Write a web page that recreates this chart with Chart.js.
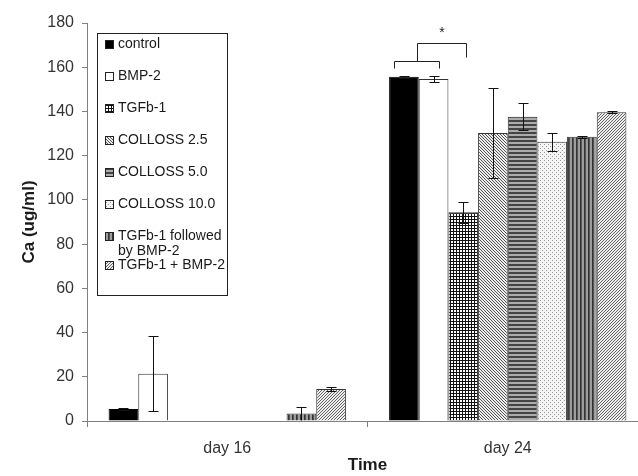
<!DOCTYPE html>
<html lang="en">
<head>
	<title>Ca (ug/ml) by time</title>
	<meta charset="utf-8">
	<script src="https://cdn.jsdelivr.net/npm/chart.js@4.4.0/dist/chart.umd.min.js"></script>
	<style>
		html, body { margin: 0; padding: 0; background: #fff; overflow: hidden; }
		#wrap { width: 660px; height: 476px; }
	</style>
</head>
<body>
	<div id="wrap"><canvas id="chart" width="660" height="476"></canvas></div>
	<script>
		// categories and series
		const days = ['day 16', 'day 24'];
		const seriesNames = ['control', 'BMP-2', 'TGFb-1', 'COLLOSS 2.5', 'COLLOSS 5.0', 'COLLOSS 10.0', ['TGFb-1 followed', 'by BMP-2'], 'TGFb-1 + BMP-2'];

		// mean Ca per series, one array per day (same order as seriesNames)
		const day16Means = [5.4, 21.4, 0, 0, 0, 0, 3.4, 14.5];
		const day24Means = [155.7, 154.7, 94.4, 130.2, 137.6, 126.3, 128.6, 139.6];
		// error bar half-heights
		const day16Err = [0.3, 17, 0, 0, 0, 0, 3, 0.8];
		const day24Err = [0.4, 1.5, 4.8, 20.5, 6.2, 4.0, 0.4, 0.4];

		const yTicks = [0, 20, 40, 60, 80, 100, 120, 140, 160, 180];
		// significance bracket levels (data units): low bar, low feet, high bar, high foot, star
		const sigLevels = [163, 159.5, 171, 164.5, 175.5];

		const FONT = '"Liberation Sans", Arial, sans-serif';

		function tile(w, h, off, on, test) {
			const c = document.createElement('canvas');
			c.width = w;
			c.height = h;
			const g = c.getContext('2d');
			g.fillStyle = off;
			g.fillRect(0, 0, w, h);
			for (let y = 0; y < h; y++) {
				for (let x = 0; x < w; x++) {
					const col = test(x, y);
					if (col) {
						g.fillStyle = col === true ? on : col;
						g.fillRect(x, y, 1, 1);
					}
				}
			}
			return g.createPattern(c, 'repeat');
		}

		const fills = [
			'#000',
			'#fff',
			tile(3, 3, '#fff', '#111', (x, y) => x === 0 || y === 0),
			tile(3, 3, '#ececec', '#555', (x, y) => (x - y + 3) % 3 === 0),
			tile(1, 4, '#ababab', '#444', (x, y) => y < 2),
			tile(4, 4, '#f4f4f4', '#9a9a9a', (x, y) => (x === 0 && y === 0) || (x === 2 && y === 2)),
			tile(4, 1, '#9c9c9c', '#333', (x, y) => x === 0 ? true : (x === 1 ? '#555' : false)),
			tile(3, 3, '#ececec', '#666', (x, y) => (x + y) % 3 === 0)
		];

		const datasets = seriesNames.map((name, i) => ({
			label: name,
			data: [day16Means[i], day24Means[i]],
			errors: [day16Err[i], day24Err[i]],
			backgroundColor: fills[i],
			borderColor: i === 0 ? '#000' : '#333',
			borderWidth: 1,
			categoryPercentage: 0.846,
			barPercentage: 1.0
		}));

		const errorBars = {
			id: 'errorBars',
			afterDatasetsDraw(chart) {
				const { ctx } = chart;
				const y = chart.scales.y;
				ctx.save();
				ctx.strokeStyle = '#111';
				ctx.lineWidth = 1;
				chart.data.datasets.forEach((ds, i) => {
					chart.getDatasetMeta(i).data.forEach((bar, j) => {
						const e = ds.errors[j];
						const v = ds.data[j];
						if (!e || !v) return;
						const x = Math.round(bar.x) + 0.5;
						const top = Math.round(y.getPixelForValue(v + e)) + 0.5;
						const bot = Math.round(y.getPixelForValue(Math.max(0, v - e))) + 0.5;
						ctx.beginPath();
						ctx.moveTo(x, top);
						ctx.lineTo(x, bot);
						ctx.moveTo(x - 5, top);
						ctx.lineTo(x + 5, top);
						if (v - e > 1) {
							ctx.moveTo(x - 5, bot);
							ctx.lineTo(x + 5, bot);
						}
						ctx.stroke();
					});
				});
				ctx.restore();
			}
		};

		const sigBracket = {
			id: 'sigBracket',
			afterDatasetsDraw(chart) {
				const { ctx } = chart;
				const y = chart.scales.y;
				const c = chart.getDatasetMeta(0).data[1];
				const b = chart.getDatasetMeta(1).data[1];
				const t = chart.getDatasetMeta(2).data[1];
				const px = v => Math.round(y.getPixelForValue(v)) + 0.5;
				const left = Math.round(c.x - 10) + 0.5;
				const right = Math.round(b.x + 5) + 0.5;
				const mid = Math.round((left + right) / 2) + 0.5;
				const far = Math.round(t.x + 3) + 0.5;
				ctx.save();
				ctx.strokeStyle = '#222';
				ctx.lineWidth = 1;
				ctx.beginPath();
				ctx.moveTo(left, px(sigLevels[1]));
				ctx.lineTo(left, px(sigLevels[0]));
				ctx.lineTo(right, px(sigLevels[0]));
				ctx.lineTo(right, px(sigLevels[1]));
				ctx.moveTo(mid, px(sigLevels[0]));
				ctx.lineTo(mid, px(sigLevels[2]));
				ctx.lineTo(far, px(sigLevels[2]));
				ctx.lineTo(far, px(sigLevels[3]));
				ctx.stroke();
				ctx.fillStyle = '#222';
				ctx.font = '14px ' + FONT;
				ctx.textAlign = 'center';
				ctx.textBaseline = 'middle';
				ctx.fillText('*', (mid + far) / 2, y.getPixelForValue(sigLevels[4]));
				ctx.restore();
			}
		};

		const boxLegend = {
			id: 'boxLegend',
			afterDraw(chart) {
				const { ctx, chartArea } = chart;
				const x0 = chartArea.left + 10, y0 = chartArea.top + 10;
				const w = 130, h = 262;
				ctx.save();
				ctx.fillStyle = '#fff';
				ctx.fillRect(x0, y0, w, h);
				ctx.strokeStyle = '#222';
				ctx.lineWidth = 1;
				ctx.strokeRect(x0 + 0.5, y0 + 0.5, w, h);
				ctx.font = '14px ' + FONT;
				ctx.textBaseline = 'middle';
				ctx.textAlign = 'left';
				let cy = y0 + 11;
				chart.data.datasets.forEach(ds => {
					const lines = [].concat(ds.label);
					ctx.fillStyle = ds.backgroundColor;
					ctx.fillRect(x0 + 8, cy - 4, 9, 9);
					ctx.strokeStyle = '#222';
					ctx.strokeRect(x0 + 8.5, cy - 3.5, 8, 8);
					ctx.fillStyle = '#1a1a1a';
					lines.forEach((ln, k) => ctx.fillText(ln, x0 + 21, cy + k * 15));
					cy += lines.length > 1 ? 29 : 32;
				});
				ctx.restore();
			}
		};

		new Chart(document.getElementById('chart'), {
			type: 'bar',
			data: { labels: days, datasets: datasets },
			plugins: [errorBars, sigBracket, boxLegend],
			options: {
				responsive: false,
				animation: false,
				devicePixelRatio: 1,
				layout: { padding: { top: 23, right: 12, bottom: 0, left: 0 } },
				plugins: {
					legend: { display: false },
					tooltip: { enabled: false }
				},
				scales: {
					x: {
						grid: { drawOnChartArea: false, drawTicks: true, tickLength: 6, color: '#808080', offset: true },
						border: { color: '#808080' },
						ticks: { color: '#333', font: { family: FONT, size: 16 }, padding: 12 },
						title: { display: true, text: 'Time', color: '#1a1a1a', font: { family: FONT, size: 17, weight: 'bold' }, padding: { top: 0, bottom: 0 } },
						afterFit: s => { s.height = 55; }
					},
					y: {
						min: 0,
						max: 180,
						afterBuildTicks: s => { s.ticks = yTicks.map(v => ({ value: v })); },
						grid: { drawOnChartArea: false, drawTicks: true, tickLength: 5, color: '#808080' },
						border: { color: '#808080' },
						ticks: { color: '#333', font: { family: FONT, size: 16 }, padding: 8 },
						title: { display: true, text: 'Ca (ug/ml)', color: '#1a1a1a', font: { family: FONT, size: 17, weight: 'bold' }, padding: { top: 19, bottom: 0 } },
						afterFit: s => { s.width = 87; }
					}
				}
			}
		});
	</script>
</body>
</html>
